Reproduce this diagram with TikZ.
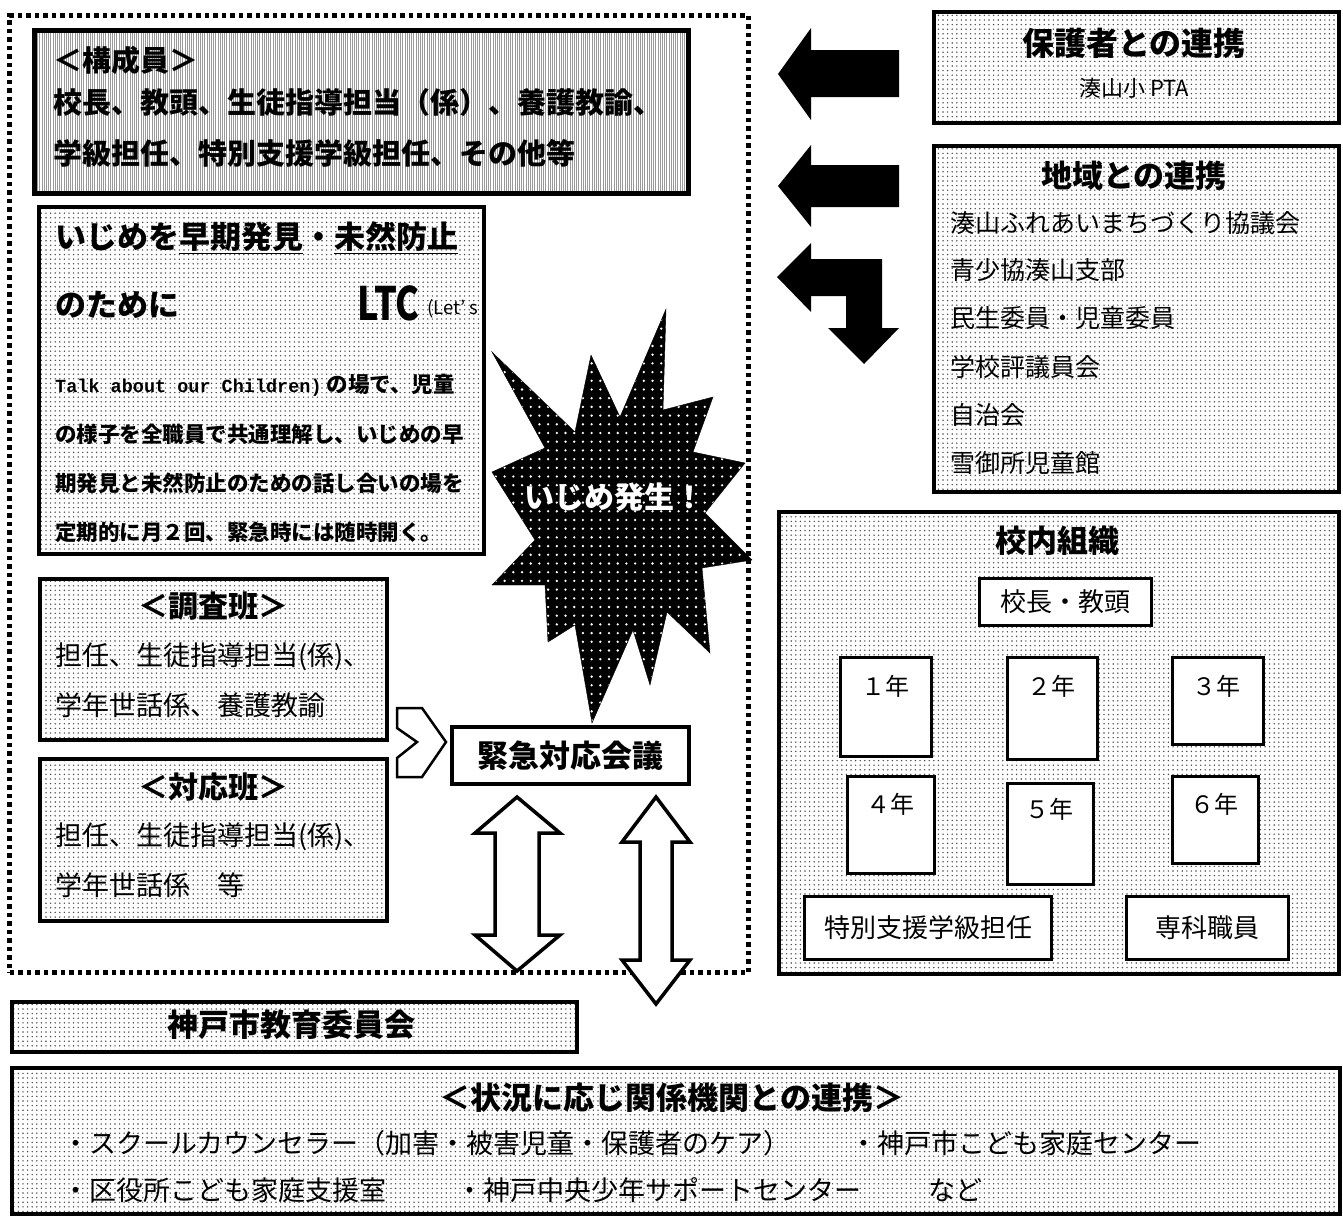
\documentclass[tikz,border=0pt]{standalone}
\usepackage{fontspec}
\setmainfont{Noto Sans CJK JP}
\newfontfamily\monofnt{Liberation Mono}
\usetikzlibrary{patterns.meta}
\newcommand{\fsz}[1]{\fontsize{#1pt}{#1pt}\selectfont}
\tikzset{
  dotfill/.style={preaction={fill=white}, pattern={Dots[distance=4.6pt,radius=0.8pt]}, pattern color=black!70},
  box/.style={draw, line width=3.5pt, dotfill, inner sep=0pt, anchor=north west},
  linebox/.style={draw, line width=4.5pt, preaction={fill=white}, pattern={Lines[angle=90,distance=2.2pt,line width=0.6pt]}, pattern color=black!40, inner sep=0pt, anchor=north west},
  wbox/.style={draw, line width=3pt, fill=white, inner sep=0pt, anchor=north west},
  frame/.style={draw, line width=5pt, dash pattern=on 4.5pt off 4pt, inner sep=0pt, anchor=north west},
  txt/.style={inner sep=0pt, anchor=west},
  ctxt/.style={inner sep=0pt},
  blk/.style={fill=black},
  warrow/.style={draw, line width=3.5pt, fill=white, line join=miter},
  burst/.style={preaction={fill=black}, pattern={Dots[distance=8.7pt,radius=1.3pt]}, pattern color=white}
}
\begin{document}
\begin{tikzpicture}[x=1pt,y=-1pt]
\useasboundingbox (0,0) rectangle (1343,1216);

% dotted group frame
\node[frame, minimum width=739pt, minimum height=957pt] (grp) at (7,13) {};

% members box
\node[linebox, minimum width=654pt, minimum height=163pt] (kosei) at (34,30) {};
\node[txt] (k1) at (53,60) {\fsz{29}\bfseries ＜構成員＞};
\node[txt] (k2) at (53,102) {\fsz{29}\bfseries 校長、教頭、生徒指導担当（係）、養護教諭、};
\node[txt] (k3) at (53,153) {\fsz{29}\bfseries 学級担任、特別支援学級担任、その他等};

% LTC box
\node[box, minimum width=445pt, minimum height=347pt] (ijime) at (37,205) {};
\node[txt] (i1) at (55,238) {\fsz{31}\bfseries いじめを\underline{早期発見}・\underline{未然防止}};
\node[txt] (i2a) at (55,305) {\fsz{31}\bfseries のために};
\node[ctxt, anchor=east] (i2b) at (420,303) {\scalebox{0.78}[1]{\fsz{46}\bfseries LTC}};
\node[txt] (i2c) at (427,309) {\fsz{18.5}(Let’ s};
\node[txt] (i3) at (55,385) {\fsz{18.5}\monofnt\bfseries Talk about our Children)\fsz{21.5}\rmfamily\bfseries\ の場で、児童};
\node[txt] (i4) at (55,434) {\fsz{21.5}\bfseries の様子を全職員で共通理解し、いじめの早};
\node[txt] (i5) at (55,483) {\fsz{21.5}\bfseries 期発見と未然防止のための話し合いの場を};
\node[txt] (i6) at (55,532) {\fsz{21.5}\bfseries 定期的に月２回、緊急時には随時開く。};

% survey team
\node[box, minimum width=347pt, minimum height=161pt] (chosa) at (38,577) {};
\node[ctxt] (c1) at (213,606) {\fsz{30}\bfseries ＜調査班＞};
\node[txt] (c2) at (55,657) {\fsz{27}担任、生徒指導担当(係)、};
\node[txt] (c3) at (55,705) {\fsz{27}学年世話係、養護教諭};

% response team
\node[box, minimum width=347pt, minimum height=162pt] (taio) at (38,757) {};
\node[ctxt] (t1) at (213,787) {\fsz{30}\bfseries ＜対応班＞};
\node[txt] (t2) at (55,837) {\fsz{27}担任、生徒指導担当(係)、};
\node[txt] (t3) at (55,885) {\fsz{27}学年世話係　等};

% emergency meeting
\node[wbox, line width=3.5pt, minimum width=237pt, minimum height=57pt] (kinkyu) at (450,725) {};
\node[ctxt] (kinkyut) at (kinkyu.center) {\fsz{31}\bfseries 緊急対応会議};

% notched chevron
\draw[draw, line width=2.5pt, fill=white, line join=miter]
  (397,708) -- (422,708) -- (446,742) -- (422,777) -- (397,777) -- (397,758) -- (417,742) -- (397,728) -- cycle;

% burst
\draw[burst]
  (492,352) -- (575,432) -- (591,355) -- (620,417) -- (666,309) -- (663,410)
  -- (713,397) -- (693,452) -- (745,463) -- (705,513) -- (752,560) -- (702,568)
  -- (710,653) -- (667,612) -- (650,685) -- (633,630) -- (592,723) -- (575,625)
  -- (548,642) -- (545,585) -- (492,585) -- (535,540) -- (492,472) -- (545,448) -- cycle;
\node[ctxt, text=white] (burstt) at (614,497) {\fsz{30}\bfseries いじめ発生！};

% double arrows
\draw[warrow] (517,797) -- (560,833) -- (539,833) -- (539,935) -- (560,935) -- (517,971)
  -- (475,935) -- (495,935) -- (495,833) -- (475,833) -- cycle;
\draw[warrow] (656,797) -- (690,842) -- (672,842) -- (672,960) -- (690,960) -- (656,1004)
  -- (622,960) -- (640,960) -- (640,842) -- (622,842) -- cycle;

% parents box
\node[box, line width=4pt, minimum width=405pt, minimum height=111pt] (hogo) at (932,10) {};
\node[ctxt] (h1) at (1134,43) {\fsz{32}\bfseries 保護者との連携};
\node[ctxt] (h2) at (1134,88) {\fsz{22}湊山小 PTA};

% community box
\node[box, line width=4pt, minimum width=405pt, minimum height=346pt] (chiiki) at (932,144) {};
\node[ctxt] (r0) at (1134,176) {\fsz{31}\bfseries 地域との連携};
\node[txt] (r1) at (950,223) {\fsz{25}湊山ふれあいまちづくり協議会};
\node[txt] (r2) at (950,270) {\fsz{25}青少協湊山支部};
\node[txt] (r3) at (950,318) {\fsz{25}民生委員・児童委員};
\node[txt] (r4) at (950,367) {\fsz{25}学校評議員会};
\node[txt] (r5) at (950,415) {\fsz{25}自治会};
\node[txt] (r6) at (950,463) {\fsz{25}雪御所児童館};

% black arrows
\fill[blk] (778,74) -- (811,28) -- (811,50) -- (899,50) -- (899,97) -- (811,97) -- (811,120) -- cycle;
\fill[blk] (778,186) -- (811,145) -- (811,165) -- (899,165) -- (899,207) -- (811,207) -- (811,227) -- cycle;
\fill[blk] (777,277) -- (811,243) -- (811,259) -- (882,259) -- (882,328) -- (899,328) -- (864,364)
  -- (828,328) -- (846,328) -- (846,296) -- (811,296) -- (811,312) -- cycle;

% school organisation
\node[box, line width=4pt, minimum width=560pt, minimum height=462pt] (konai) at (777,510) {};
\node[ctxt] (o0) at (1057,541) {\fsz{31}\bfseries 校内組織};
\node[wbox, minimum width=172pt, minimum height=47pt] (kocho) at (978,577) {};
\node[ctxt] (kochot) at (kocho.center) {\fsz{26}校長・教頭};
\node[wbox, minimum width=91pt, minimum height=99pt] (g1) at (839,656) {};
\node[wbox, minimum width=90pt, minimum height=102pt] (g2) at (1006,656) {};
\node[wbox, minimum width=91pt, minimum height=87pt] (g3) at (1171,656) {};
\node[wbox, minimum width=87pt, minimum height=97pt] (g4) at (846,775) {};
\node[wbox, minimum width=86pt, minimum height=101pt] (g5) at (1006,782) {};
\node[wbox, minimum width=86pt, minimum height=87pt] (g6) at (1171,775) {};
\node[ctxt] (g1t) at (885,686) {\fsz{24}１年};
\node[ctxt] (g2t) at (1051,686) {\fsz{24}２年};
\node[ctxt] (g3t) at (1216,686) {\fsz{24}３年};
\node[ctxt] (g4t) at (890,804) {\fsz{24}４年};
\node[ctxt] (g5t) at (1049,809) {\fsz{24}５年};
\node[ctxt] (g6t) at (1214,804) {\fsz{24}６年};
\node[wbox, minimum width=247pt, minimum height=63pt] (toku) at (803,895) {};
\node[ctxt] (tokut) at (toku.center) {\fsz{26}特別支援学級担任};
\node[wbox, minimum width=162pt, minimum height=63pt] (senka) at (1125,895) {};
\node[ctxt] (senkat) at (senka.center) {\fsz{26}専科職員};

% Kobe board of education
\node[box, line width=4pt, minimum width=565pt, minimum height=50pt] (kobe) at (10,1000) {};
\node[ctxt] (kobet) at (291,1025) {\fsz{31}\bfseries 神戸市教育委員会};

% related agencies
\node[box, line width=4pt, minimum width=1328pt, minimum height=146pt] (kankei) at (10,1066) {};
\node[ctxt] (a0) at (672,1098) {\fsz{31}\bfseries ＜状況に応じ関係機関との連携＞};
\node[txt] (a1) at (62,1143) {\fsz{27}・スクールカウンセラー（加害・被害児童・保護者のケア）};
\node[txt] (a2) at (850,1143) {\fsz{27}・神戸市こども家庭センター};
\node[txt] (a3) at (62,1190) {\fsz{27}・区役所こども家庭支援室};
\node[txt] (a4) at (456,1190) {\fsz{27}・神戸中央少年サポートセンター};
\node[txt] (a5) at (928,1190) {\fsz{27}など};
\end{tikzpicture}
\end{document}
